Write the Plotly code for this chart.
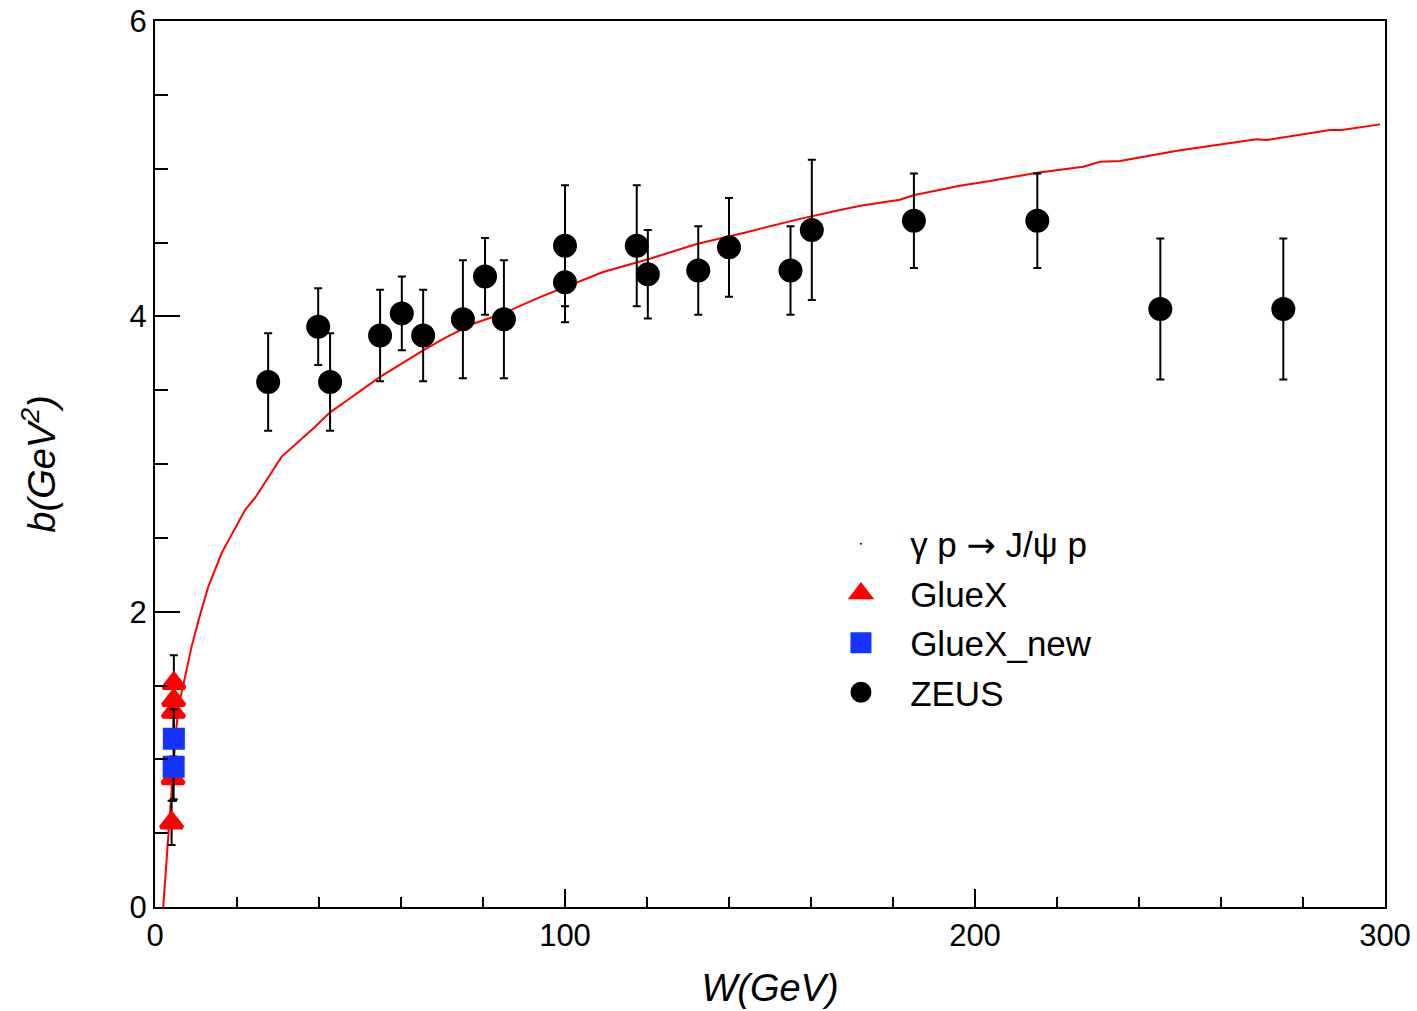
import plotly.graph_objects as go

# ---- data ----
zeus_w = [27.6, 39.8, 42.7, 54.9, 60.2, 65.4, 75.1, 80.5, 85.1, 100.0, 100.0,
          117.5, 120.2, 132.5, 140.0, 155.0, 160.2, 185.1, 215.2, 245.2, 275.2]
zeus_b = [3.555, 3.93, 3.555, 3.87, 4.02, 3.87, 3.98, 4.27, 3.98, 4.478, 4.23,
          4.478, 4.285, 4.31, 4.467, 4.31, 4.585, 4.648, 4.648, 4.05, 4.05]
zeus_err = [0.33, 0.26, 0.33, 0.31, 0.25, 0.31, 0.40, 0.26, 0.40, 0.41, 0.27,
            0.41, 0.30, 0.30, 0.335, 0.30, 0.475, 0.32, 0.32, 0.477, 0.477]

gluex_w = [4.05, 4.40, 4.50, 4.55, 4.60]
gluex_b = [0.57, 0.87, 1.32, 1.40, 1.515]
gluex_err = [0.15, 0.15, 0.12, 0.12, 0.19]

gluexnew_w = [4.55, 4.60]
gluexnew_b = [0.95, 1.14]
gluexnew_err = [0.22, 0.20]

curve_w = [2.0, 2.9, 3.5, 4.0, 4.5, 5.0, 5.7, 7.0, 8.9, 10.6, 13.0, 16.3, 22.0,
           24.4, 30.9, 39.0, 42.7, 46.8, 54.9, 65.4, 71.1, 77.6, 84.9, 93.9,
           109.3, 120.7, 132.1, 144.3, 157.3, 167.1, 172.4, 181.7, 185.0, 196.3,
           203.7, 215.2, 226.4, 230.5, 235.4, 250.0, 268.7, 271.1, 286.6, 289.4, 298.8]
curve_b = [0.0, 0.35, 0.55, 0.75, 0.95, 1.15, 1.35, 1.51, 1.76, 1.94, 2.17, 2.40, 2.69,
           2.77, 3.05, 3.25, 3.35, 3.43, 3.59, 3.77, 3.86, 3.95, 4.02, 4.13,
           4.30, 4.39, 4.49, 4.57, 4.66, 4.72, 4.75, 4.79, 4.82, 4.885,
           4.916, 4.973, 5.013, 5.047, 5.052, 5.125, 5.199, 5.194, 5.262, 5.262, 5.30]

x_ticks = [0, 100, 200, 300]
y_ticks = [0, 2, 4, 6]

FONT = "Liberation Sans, Arial, Helvetica, sans-serif"
GAP = "\u00a0\u00a0\u00a0"

RED = "#ff0000"
BLUE = "#1433ff"

fig = go.Figure()

fig.add_trace(go.Scatter(x=curve_w, y=curve_b, mode="lines",
                         line=dict(color=RED, width=2), showlegend=False,
                         hoverinfo="skip"))

# legend header entry (tiny dot, as in ROOT)
fig.add_trace(go.Scatter(x=[None], y=[None], mode="markers", legendgroup="h",
                         marker=dict(size=2, color="black"),
                         name=GAP + 'γ p <span style="font-family:DejaVu Sans">→</span> J/ψ p'))

fig.add_trace(go.Scatter(x=gluex_w, y=gluex_b, mode="markers", name=GAP + "GlueX",
                         legendgroup="g1",
                         marker=dict(symbol="triangle-up", size=19, color=RED,
                                     line=dict(color=RED, width=4)),
                         error_y=dict(type="data", array=gluex_err, color="black",
                                      thickness=2, width=4)))

fig.add_trace(go.Scatter(x=gluexnew_w, y=gluexnew_b, mode="markers", name=GAP + "GlueX_new",
                         legendgroup="g2",
                         marker=dict(symbol="square", size=17, color=BLUE,
                                     line=dict(color=BLUE, width=5)),
                         error_y=dict(type="data", array=gluexnew_err, color="black",
                                      thickness=2, width=4)))

fig.add_trace(go.Scatter(x=zeus_w, y=zeus_b, mode="markers", name=GAP + "ZEUS",
                         legendgroup="z",
                         marker=dict(symbol="circle", size=19, color="black",
                                     line=dict(color="black", width=5)),
                         error_y=dict(type="data", array=zeus_err, color="black",
                                      thickness=2, width=4)))

fig.update_layout(
    width=1417, height=1011,
    margin=dict(l=155, r=32, t=21, b=104),
    paper_bgcolor="white", plot_bgcolor="white",
    font=dict(family=FONT, size=31, color="black"),
    showlegend=True,
    legend=dict(x=0.5577, y=0.443, xanchor="left", yanchor="top",
                font=dict(size=35, family=FONT), bgcolor="rgba(0,0,0,0)",
                itemsizing="trace", tracegroupgap=1),
)

fig.update_xaxes(
    range=[0, 300], tickvals=x_ticks, ticktext=[str(v) for v in x_ticks],
    ticks="inside", ticklen=18, tickwidth=2, tickcolor="black",
    showline=True, linecolor="black", linewidth=2, mirror=True,
    showgrid=False, zeroline=False, automargin=False,
    minor=dict(ticks="inside", ticklen=10, dtick=20, tickwidth=2, tickcolor="black",
               showgrid=False),
    tickfont=dict(size=31),
    title=dict(text="<i>W(GeV)</i>", font=dict(size=38), standoff=22),
)
fig.update_yaxes(
    range=[0, 6], tickvals=y_ticks, ticktext=[str(v) for v in y_ticks],
    ticks="inside", ticklen=25, tickwidth=2, tickcolor="black",
    showline=True, linecolor="black", linewidth=2, mirror=True,
    showgrid=False, zeroline=False, automargin=False,
    minor=dict(ticks="inside", ticklen=13, dtick=0.5, tickwidth=2, tickcolor="black",
               showgrid=False),
    tickfont=dict(size=31),
    title=dict(text="<i>b(GeV<sup>2</sup>)</i>", font=dict(size=38), standoff=62),
)

fig.write_html("out.html")
